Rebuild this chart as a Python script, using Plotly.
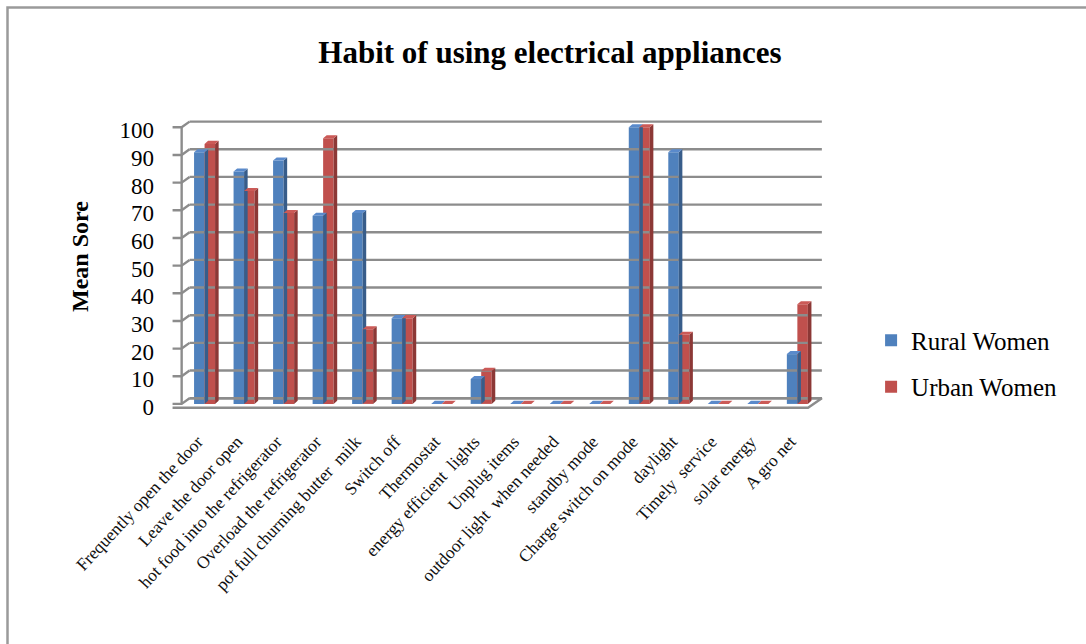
import plotly.graph_objects as go

# ---- data -------------------------------------------------------------
categories = [
    "Frequently open the door", "Leave the door open",
    "hot food into the refrigerator", "Overload the refrigerator",
    "pot full churning butter  milk", "Switch off", "Thermostat",
    "energy efficient  lights", "Unplug items", "outdoor light  when needed",
    "standby mode", "Charge switch on mode", "daylight", "Timely  service",
    "solar energy", "A gro net",
]
rural = [91, 84, 88, 68, 69, 31, 0, 9, 0, 0, 0, 100, 91, 0, 0, 18]
urban = [94, 77, 69, 96, 27, 31, 0, 12, 0, 0, 0, 100, 25, 0, 0, 36]
y_ticks = list(range(0, 101, 10))

# ---- styling ----------------------------------------------------------
FONT = "Liberation Serif, Times New Roman, serif"
BLUE, BLUE_SIDE, BLUE_TOP = "#4F81BD", "#385D8A", "#5A8ACB"
RED, RED_SIDE, RED_TOP = "#C0504D", "#8C3836", "#CB5A57"
GRID = "#8C8C8C"

BAR_W = 0.266          # bar width in category units
DEPTH_X = 0.09         # 3-D depth offset of the bar sides (x units)
DEPTH_Y = 1.1          # 3-D depth offset of the bar tops (value units)
WALL_SHIFT = 2.06      # back wall sits this many value units above the front
X_FRONT_L, X_BACK_L = -0.58, -0.38
X_FRONT_R, X_BACK_R = 15.27, 15.62
X_TICK = -0.81

idx = list(range(len(categories)))


def faces(values, offset):
    """Side and top faces of each column for the 3-D look."""
    sx, sy, tx, ty = [], [], [], []
    for i, v in zip(idx, values):
        x0 = i + offset
        x1 = x0 + BAR_W
        sx += [x1, x1, x1 + DEPTH_X, x1 + DEPTH_X, x1, None]
        sy += [0, v, v + DEPTH_Y, DEPTH_Y, 0, None]
        tx += [x0, x1, x1 + DEPTH_X, x0 + DEPTH_X, x0, None]
        ty += [v, v, v + DEPTH_Y, v + DEPTH_Y, v, None]
    return sx, sy, tx, ty


fig = go.Figure()

# back-wall gridlines and left wall
gx, gy = [], []
for v in y_ticks:
    gx += [X_BACK_L, X_BACK_R, None]
    gy += [v + WALL_SHIFT, v + WALL_SHIFT, None]
wx, wy = [X_FRONT_L, X_FRONT_L, None], [0, 100, None]
for v in y_ticks:
    wx += [X_TICK, X_FRONT_L, X_BACK_L, None]
    wy += [v, v, v + WALL_SHIFT, None]
# floor outline
fx = [X_TICK, X_FRONT_R, X_BACK_R, X_BACK_L]
fy = [-1.4, -1.4, WALL_SHIFT, WALL_SHIFT]

for xs, ys in ((gx, gy), (wx, wy), (fx, fy)):
    fig.add_trace(go.Scatter(x=xs, y=ys, mode="lines", showlegend=False,
                             hoverinfo="skip",
                             line=dict(color=GRID, width=2.4)))

for name, vals, off, c, cs, ct in (
    ("Rural Women", rural, -BAR_W, BLUE, BLUE_SIDE, BLUE_TOP),
    ("Urban Women", urban, 0.0, RED, RED_SIDE, RED_TOP),
):
    fig.add_trace(go.Bar(x=idx, y=vals, name=name, width=BAR_W, offset=off,
                         marker=dict(color=c, line=dict(width=0)),
                         legendgroup=name))
    sx, sy, tx, ty = faces(vals, off)
    fig.add_trace(go.Scatter(x=sx, y=sy, fill="toself", fillcolor=cs,
                             mode="none", showlegend=False, hoverinfo="skip"))
    fig.add_trace(go.Scatter(x=tx, y=ty, fill="toself", fillcolor=ct,
                             mode="none", showlegend=False, hoverinfo="skip"))

fig.update_layout(
    width=1086, height=644,
    margin=dict(l=169, r=259, t=119, b=234),
    paper_bgcolor="white", plot_bgcolor="white",
    font=dict(family=FONT, color="black"),
    barmode="overlay",
    title=dict(text="<b>Habit of using electrical appliances</b>",
               x=0.5064, xref="container", xanchor="center",
               y=1 - 52 / 644, yref="container", yanchor="middle",
               font=dict(size=31, family=FONT, color="black")),
    xaxis=dict(range=[-0.9, 15.75], tickvals=idx, ticktext=categories,
               tickangle=-47, showgrid=False, zeroline=False,
               showline=False, ticks="", ticklabelstandoff=17,
               ticklabelshift=-7,
               tickfont=dict(size=17.5, family=FONT, color="#111")),
    yaxis=dict(range=[-2.2, 103], tickvals=y_ticks, showgrid=False,
               zeroline=False, showline=False, ticks="",
               ticklabelstandoff=14, ticklabelshift=3,
               tickfont=dict(size=23, family=FONT, color="black")),
    legend=dict(x=1.067, xanchor="left", y=0.16, yanchor="middle",
                font=dict(size=25, family=FONT, color="black"),
                traceorder="grouped", tracegroupgap=11,
                bgcolor="rgba(0,0,0,0)"),
    annotations=[dict(text="<b>Mean Sore</b>", textangle=-90,
                      xref="paper", yref="paper", x=(80 - 169) / 658,
                      y=(410 - 257) / 291, xanchor="center",
                      yanchor="middle", showarrow=False,
                      font=dict(size=24, family=FONT, color="black"))],
    shapes=[dict(type="rect", xref="paper", yref="paper",
                 x0=(7.5 - 169) / 658, x1=(1095 - 169) / 658,
                 y0=-(660 - 410) / 291, y1=(410 - 7.5) / 291,
                 line=dict(color="#9A9A9A", width=2.5),
                 fillcolor="rgba(0,0,0,0)", layer="below")],
)

fig.write_html("out.html")
